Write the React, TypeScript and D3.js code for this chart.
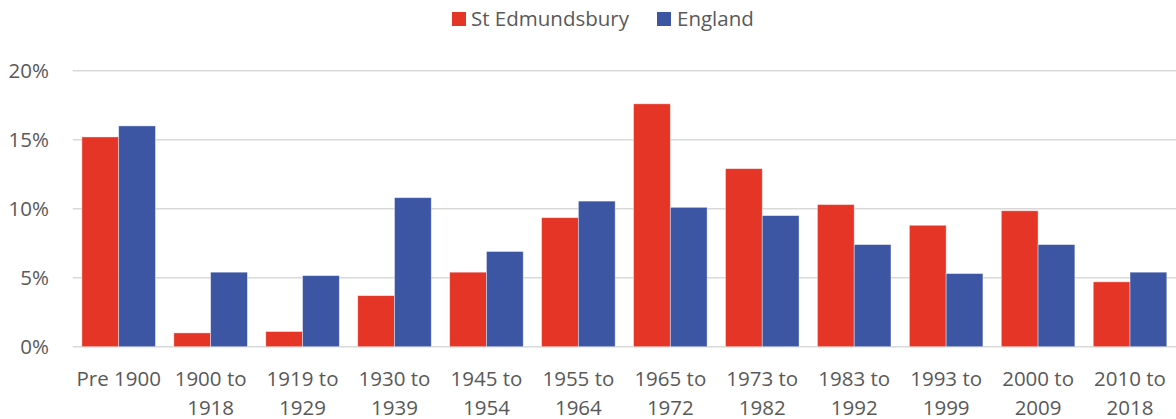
import React from "react";
import * as d3 from "d3";

const categories = [
  "Pre 1900", "1900 to 1918", "1919 to 1929", "1930 to 1939", "1945 to 1954", "1955 to 1964",
  "1965 to 1972", "1973 to 1982", "1983 to 1992", "1993 to 1999", "2000 to 2009", "2010 to 2018",
];
const stEdmundsbury = [15.2, 1.0, 1.1, 3.7, 5.4, 9.35, 17.6, 12.9, 10.3, 8.8, 9.85, 4.7];
const england = [16.0, 5.4, 5.15, 10.8, 6.9, 10.55, 10.1, 9.5, 7.4, 5.3, 7.4, 5.4];
const yTicks = [0, 5, 10, 15, 20];
const seriesNames = ["St Edmundsbury", "England"];
const colors = ["#E43526", "#3C56A4"];

const W = 1176, H = 419;
const FONT = "'Open Sans', sans-serif";
const TEXT = "#595959";
const FS = 20.5;

export default function App() {
  const x = d3.scaleBand<string>().domain(categories).range([72.7, 1176]).paddingInner(0.2).paddingOuter(0.1);
  const x1 = d3.scaleBand<number>().domain([0, 1]).range([0, x.bandwidth()]);
  const y = d3.scaleLinear().domain([0, 20]).range([346.7, 70.7]);
  const series = [stEdmundsbury, england];

  const wrap = (c: string) => {
    const m = c.match(/^(\d+ to) (\d+)$/);
    return m ? [m[1], m[2]] : [c];
  };

  return (
    <svg width={W} height={H} style={{ position: "absolute", left: 0, top: 0, background: "#fff" }} fontFamily={FONT}>
      {yTicks.map((t) => (
        <g key={t}>
          <line x1={72.7} x2={W} y1={y(t)} y2={y(t)} stroke="#d9d9d9" strokeWidth={1.4} />
          <text x={49} y={y(t)} dy="0.36em" textAnchor="end" fontSize={FS} fill={TEXT}>{t}%</text>
        </g>
      ))}
      {categories.map((c, i) => (
        <g key={c} transform={`translate(${x(c)},0)`}>
          {series.map((s, j) => (
            <rect key={j} x={x1(j)} y={y(s[i])} width={x1.bandwidth()} height={y(0) - y(s[i])}
              fill={colors[j]} stroke="#ffffff" strokeOpacity={0.5} strokeWidth={0.8} />
          ))}
        </g>
      ))}
      {categories.map((c) => {
        const lines = wrap(c);
        const cx = (x(c) as number) + x.bandwidth() / 2;
        return (
          <text key={c} x={cx} textAnchor="middle" fontSize={FS} fill={TEXT}>
            {lines.map((l, k) => (
              <tspan key={k} x={cx} y={386 + k * 29}>{l}</tspan>
            ))}
          </text>
        );
      })}
      <g>
        <rect x={452} y={12} width={14} height={14} fill={colors[0]} />
        <text x={471} y={26} fontSize={FS} fill={TEXT}>{seriesNames[0]}</text>
        <rect x={657} y={12} width={14} height={14} fill={colors[1]} />
        <text x={677} y={26} fontSize={FS} fill={TEXT}>{seriesNames[1]}</text>
      </g>
    </svg>
  );
}
